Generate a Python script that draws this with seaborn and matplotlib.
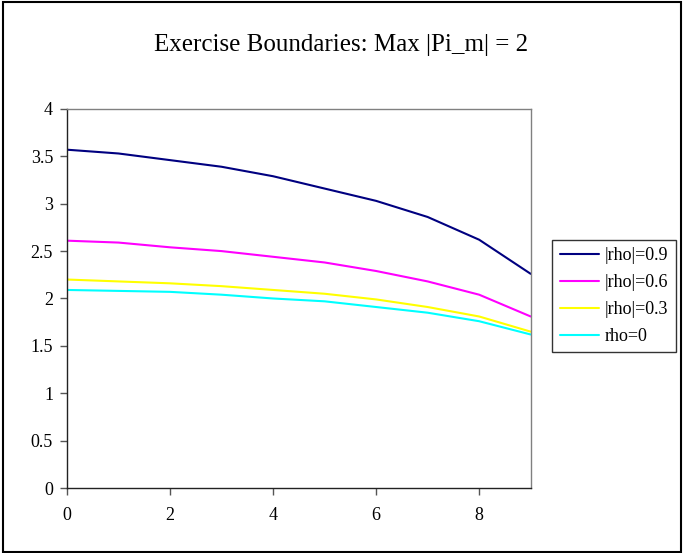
import matplotlib
matplotlib.use("Agg")
import matplotlib.pyplot as plt
import matplotlib.patches as mpatches
import numpy as np
import pandas as pd
import seaborn as sns

# ---------- data ----------
steps = list(range(10))
series_names = ["|rho|=0.9", "|rho|=0.6", "|rho|=0.3", "rho=0"]
rho_09 = [3.57, 3.53, 3.46, 3.39, 3.29, 3.16, 3.03, 2.86, 2.62, 2.26]
rho_06 = [2.61, 2.59, 2.54, 2.50, 2.44, 2.38, 2.29, 2.18, 2.04, 1.81]
rho_03 = [2.20, 2.18, 2.16, 2.13, 2.09, 2.05, 1.99, 1.91, 1.81, 1.65]
rho_00 = [2.09, 2.08, 2.07, 2.04, 2.00, 1.97, 1.91, 1.85, 1.76, 1.62]
colors = ["#000080", "#FF00FF", "#FFFF00", "#00FFFF"]

df = pd.DataFrame({
    "step": steps * 4,
    "value": rho_09 + rho_06 + rho_03 + rho_00,
    "series": [s for s in series_names for _ in steps],
})

sns.set_style("white")
plt.rcParams["font.family"] = ["Liberation Serif", "DejaVu Serif"]
plt.rcParams["text.color"] = "black"
plt.rcParams["xtick.color"] = "black"
plt.rcParams["ytick.color"] = "black"

fig = plt.figure(figsize=(6.83, 5.53), dpi=100)
ax = fig.add_axes([0.098, 0.1175, 0.679, 0.6855])

sns.lineplot(data=df, x="step", y="value", hue="series", hue_order=series_names,
             palette=colors, linewidth=1.5, ax=ax, legend=True)

ax.set_xlim(0, 9)
ax.set_ylim(0, 4)
ax.set_xticks([0, 2, 4, 6, 8])
ax.set_yticks(np.arange(0, 4.01, 0.5))
ax.set_yticklabels(["0", "0.5", "1", "1.5", "2", "2.5", "3", "3.5", "4"])
ax.set_xlabel("")
ax.set_ylabel("")
ax.tick_params(axis="both", which="both", direction="out", length=5, width=1,
               color="#555555", labelcolor="black", labelsize=13,
               left=True, bottom=True, pad=5)
ax.tick_params(axis="x", pad=9)
ax.spines["left"].set_color("#222222")
ax.spines["bottom"].set_color("#222222")
ax.spines["top"].set_color("#808080")
ax.spines["right"].set_color("#808080")
for s in ax.spines.values():
    s.set_linewidth(1.0)

fig.text(0.5, 0.919, "Exercise Boundaries: Max |Pi_m| = 2", ha="center",
         va="center", fontsize=18, color="black")

leg = ax.legend(loc="upper left", bbox_to_anchor=(1.047, 0.654), frameon=True,
                fancybox=False, edgecolor="black", fontsize=13,
                handlelength=2.2, borderpad=0.4, labelspacing=0.55,
                handletextpad=0.3, borderaxespad=0)
leg.get_frame().set_linewidth(1.0)
for t in leg.get_texts():
    t.set_color("black")

# outer chart border
fig.patches.append(mpatches.Rectangle((0.005, 0.002), 0.992, 0.994,
                                      transform=fig.transFigure, fill=False,
                                      edgecolor="black", linewidth=1.5))

fig.savefig("out.png", dpi=100)
